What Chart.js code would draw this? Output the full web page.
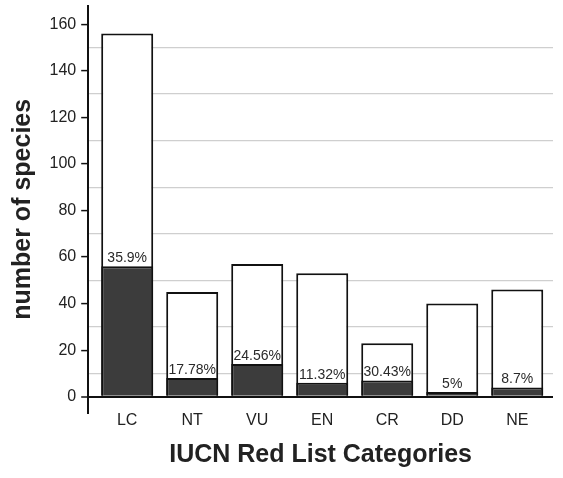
<!DOCTYPE html>
<html>
<head>
<meta charset="utf-8">
<script src="https://cdn.jsdelivr.net/npm/chart.js@4/dist/chart.umd.min.js"></script>
<style>
  html, body { margin: 0; padding: 0; background: #fff; }
  #wrap { width: 563px; height: 478px; }
</style>
</head>
<body>
<div id="wrap"><canvas id="grafico"></canvas></div>
<script>
const categorias = ['LC', 'NT', 'VU', 'EN', 'CR', 'DD', 'NE'];
const totalEspecies = [156, 45, 57, 53, 23, 40, 46];
const especiesParte = [56, 8, 14, 6, 7, 2, 4];
const porcentajes = ['35.9%', '17.78%', '24.56%', '11.32%', '30.43%', '5%', '8.7%'];
// marcas del eje y (las de 20 en 20 llevan texto, las intermedias solo linea de fondo)
const marcasY = [0, 10, 20, 30, 40, 50, 60, 70, 80, 90, 100, 110, 120, 130, 140, 150, 160];

const fuente = "'Liberation Sans', Arial, sans-serif";

// etiquetas de porcentaje encima de la parte oscura
const etiquetasPct = {
    id: 'etiquetasPct',
    afterDatasetsDraw(chart) {
        const ctx = chart.ctx;
        const meta = chart.getDatasetMeta(0);
        ctx.save();
        ctx.font = '14px ' + fuente;
        ctx.fillStyle = '#2a2a2a';
        ctx.textAlign = 'center';
        ctx.textBaseline = 'bottom';
        meta.data.forEach((barra, i) => {
            ctx.fillText(porcentajes[i], barra.x, barra.y - 1);
        });
        ctx.restore();
    }
};

const puntos = arr => arr.map((v, i) => ({ x: i, y: v }));

new Chart(document.getElementById('grafico'), {
    type: 'bar',
    data: {
        datasets: [
            {
                data: puntos(especiesParte),
                backgroundColor: '#3c3c3c',
                borderColor: '#111',
                borderWidth: 2,
                grouped: false,
                barPercentage: 0.8,
                categoryPercentage: 1
            },
            {
                data: puntos(totalEspecies),
                backgroundColor: '#ffffff',
                borderColor: '#111',
                borderWidth: 2,
                grouped: false,
                barPercentage: 0.8,
                categoryPercentage: 1
            }
        ]
    },
    options: {
        responsive: true,
        maintainAspectRatio: false,
        animation: false,
        layout: { padding: { left: 9, right: 10, top: 5, bottom: 4 } },
        plugins: {
            legend: { display: false },
            tooltip: { enabled: false }
        },
        scales: {
            x: {
                type: 'linear',
                min: -0.6,
                max: 6.55,
                offset: false,
                afterBuildTicks: escala => {
                    escala.ticks = categorias.map((c, i) => ({ value: i }));
                },
                grid: { display: false, drawTicks: false },
                border: { display: false },
                ticks: {
                    autoSkip: false,
                    color: '#222',
                    font: { family: fuente, size: 16, lineHeight: 1 },
                    padding: 0,
                    callback: v => categorias[v]
                },
                title: {
                    display: true,
                    text: 'IUCN Red List Categories',
                    color: '#222',
                    font: { family: fuente, size: 25, weight: 'bold' },
                    padding: { top: 11, bottom: 4 }
                }
            },
            y: {
                min: -7,
                max: 168,
                afterBuildTicks: escala => {
                    // la marca final (tope del eje) va sin texto
                    escala.ticks = marcasY.map(v => ({ value: v })).concat([{ value: escala.max }]);
                },
                ticks: {
                    autoSkip: false,
                    color: '#222',
                    padding: 5,
                    font: c => ({ family: fuente, size: (c.tick && c.tick.value % 10 !== 0) ? 1 : 16 }),
                    callback: v => (v % 20 === 0 ? v : '')
                },
                grid: {
                    tickLength: 7,
                    color: c => c.tick.value === 0 ? '#111' : (c.tick.value % 20 === 10 ? '#cfcfcf' : 'rgba(0,0,0,0)'),
                    lineWidth: c => c.tick.value === 0 ? 2 : 1.2,
                    tickColor: c => c.tick.value % 20 === 0 ? '#111' : 'rgba(0,0,0,0)',
                    tickWidth: 1.5
                },
                border: { color: '#111', width: 2 },
                title: {
                    display: true,
                    text: 'number of species',
                    color: '#222',
                    font: { family: fuente, size: 25, weight: 'bold', lineHeight: 1.1 },
                    padding: { top: 0, bottom: 8 }
                }
            }
        }
    },
    plugins: [etiquetasPct]
});
</script>
</body>
</html>
